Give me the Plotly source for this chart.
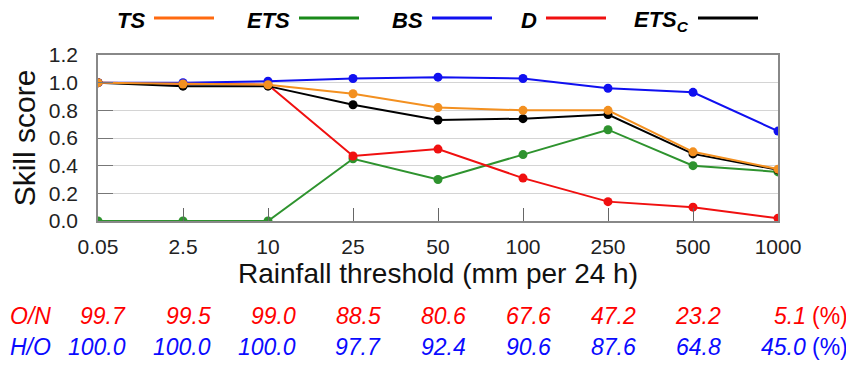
import plotly.graph_objects as go

thresholds = ["0.05", "2.5", "10", "25", "50", "100", "250", "500", "1000"]
ts = [1.00, 0.99, 0.985, 0.92, 0.82, 0.80, 0.80, 0.50, 0.375]
ets = [0.0, 0.0, 0.0, 0.45, 0.30, 0.48, 0.66, 0.40, 0.355]
bs = [1.00, 1.00, 1.01, 1.03, 1.04, 1.03, 0.96, 0.93, 0.65]
d = [1.00, 0.99, 0.985, 0.47, 0.52, 0.31, 0.14, 0.10, 0.02]
etsc = [1.00, 0.975, 0.975, 0.84, 0.73, 0.74, 0.77, 0.485, 0.37]
on_pct = ["99.7", "99.5", "99.0", "88.5", "80.6", "67.6", "47.2", "23.2", "5.1"]
ho_pct = ["100.0", "100.0", "100.0", "97.7", "92.4", "90.6", "87.6", "64.8", "45.0"]

series = [
    ("ETS", ets, "#2e932e"),
    ("D", d, "#f01010"),
    ("ETSc", etsc, "#000000"),
    ("BS", bs, "#1010f0"),
    ("TS", ts, "#f39020"),
]
legend_items = [
    ("<b><i>TS</i></b>", "#ff6a10", 146),
    ("<b><i>ETS</i></b>", "#1a8a1a", 291),
    ("<b><i>BS</i></b>", "#1010f0", 424),
    ("<b><i>D</i></b>", "#f01010", 538),
    ("<b><i>ETS<sub>C</sub></i></b>", "#000000", 690),
]

OFF = 8  # page body margin
W, H = 854 - OFF, 367 - OFF
L, R, T, B = 98 - OFF, 76, 55 - OFF, 146
pw, ph = W - L - R, H - T - B


def px_x(p):
    return (p - OFF - L) / pw


def px_y(p):
    return (OFF + H - B - p) / ph


fig = go.Figure()
for name, vals, col in series:
    fig.add_trace(go.Scatter(
        x=thresholds, y=vals, mode="lines+markers", name=name,
        line=dict(color=col, width=2),
        marker=dict(color=col, size=9),
        showlegend=False,
    ))

ann = []
shapes = []
for txt, col, right in legend_items:
    ann.append(dict(text=txt, x=px_x(right), y=px_y(21), xref="paper", yref="paper",
                    xanchor="right", yanchor="middle", showarrow=False, borderpad=0,
                    font=dict(family="Liberation Sans", size=22, color="#000")))
    shapes.append(dict(type="line", xref="paper", yref="paper",
                       x0=px_x(right + 8), x1=px_x(right + 68),
                       y0=px_y(18), y1=px_y(18),
                       line=dict(color=col, width=3)))

rows = [("O/N", on_pct, "#ff0000", 316), ("H/O", ho_pct, "#0a0aff", 347)]
for label, vals, col, ypix in rows:
    ann.append(dict(text="<i>%s</i>" % label, x=px_x(9), y=px_y(ypix), xref="paper", yref="paper",
                    xanchor="left", yanchor="middle", showarrow=False, borderpad=0,
                    font=dict(family="Liberation Sans", size=23, color=col)))
    for i, v in enumerate(vals):
        ann.append(dict(text="<i>%s</i>" % v, x=i, y=px_y(ypix), xref="x", yref="paper",
                        xanchor="right", yanchor="middle", xshift=30, showarrow=False,
                        font=dict(family="Liberation Sans", size=23, color=col)))
    ann.append(dict(text="(%)", x=len(vals) - 1, y=px_y(ypix), xref="x", yref="paper",
                    xanchor="left", yanchor="middle", xshift=32, showarrow=False,
                    font=dict(family="Liberation Sans", size=23, color=col)))

fig.update_layout(
    width=W, height=H,
    margin=dict(l=L, r=R, t=T, b=B),
    paper_bgcolor="white", plot_bgcolor="white",
    font=dict(family="Liberation Sans", color="#222"),
    annotations=ann, shapes=shapes,
    xaxis=dict(
        type="category", range=[0, 8],
        showline=True, mirror=True, linecolor="#888", linewidth=1.5,
        showgrid=False, ticks="inside", ticklen=13, tickcolor="#666", tickwidth=1.2,
        tickfont=dict(size=21, color="#222"), ticklabelstandoff=6,
        title=dict(text="Rainfall threshold (mm per 24 h)", font=dict(size=28, color="#111"), standoff=0),
    ),
    yaxis=dict(
        range=[0, 1.2], dtick=0.2, tickformat=".1f",
        showline=True, mirror=True, linecolor="#888", linewidth=1.5,
        showgrid=True, gridcolor="#d4d4d4", gridwidth=1.2,
        ticks="inside", ticklen=15, tickcolor="#777", tickwidth=1.2,
        tickfont=dict(size=21, color="#222"), ticklabelstandoff=14,
        zeroline=False,
        title=dict(text="Skill score", font=dict(size=30, color="#111"), standoff=6),
    ),
)

fig.write_html("out.html")
